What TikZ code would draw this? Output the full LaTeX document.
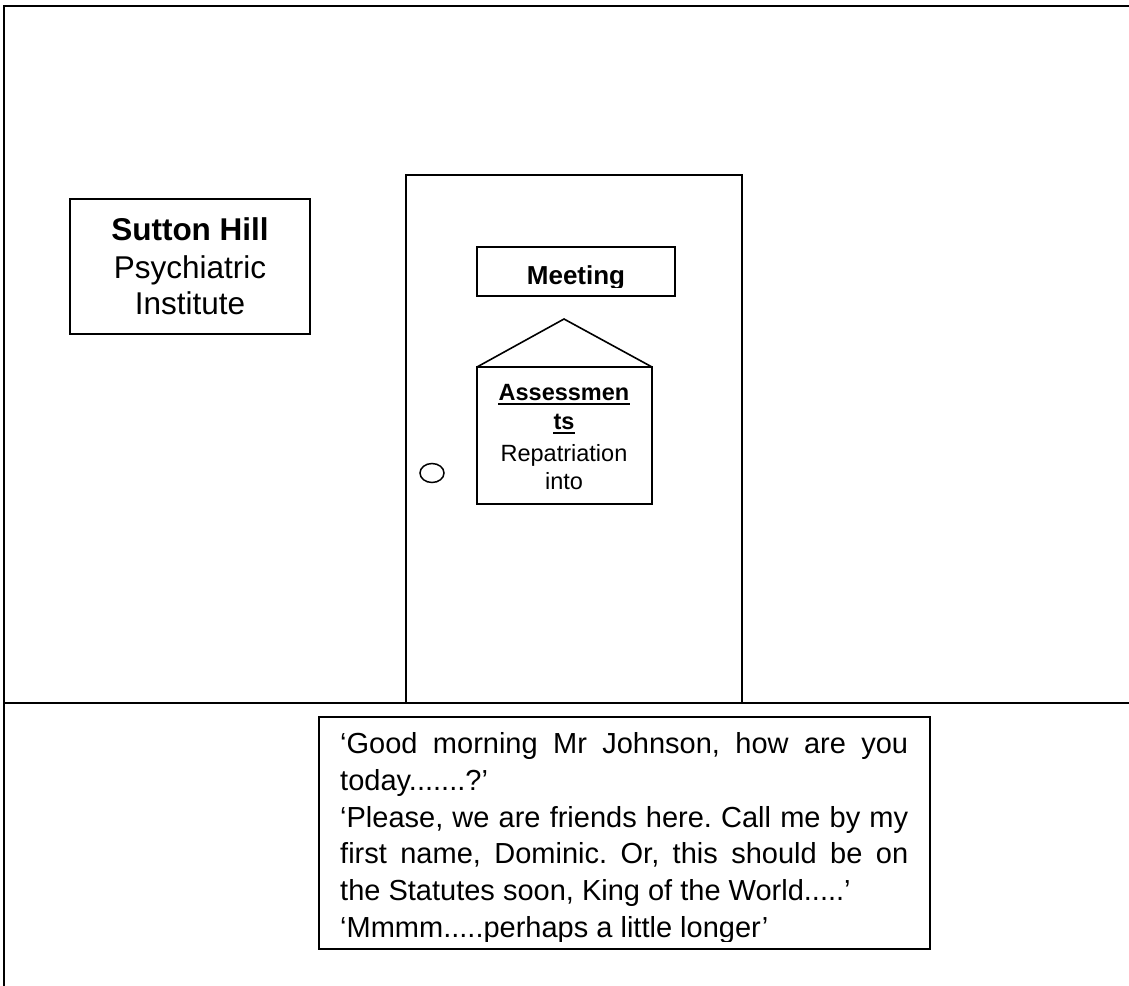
\documentclass[tikz,border=0pt]{standalone}
\usepackage{fontspec}
\setmainfont{Liberation Sans}
\frenchspacing
\begin{document}
\begin{tikzpicture}[x=1pt,y=-1pt,
  wall/.style={line width=1.6pt, line cap=rect},
  board/.style={line width=1.6pt},
  signtxt/.style={anchor=base, inner sep=0pt, font=\fontsize{31.5}{36}\selectfont},
  smalltxt/.style={anchor=base, inner sep=0pt, font=\fontsize{23.5}{28}\selectfont},
  talk/.style={anchor=base west, inner sep=0pt, font=\fontsize{29}{36}\selectfont}]
\useasboundingbox (0,0) rectangle (1129,985);

% room outline and floor line
\draw[wall] (1129,6) -- (4,6) -- (4,985);
\draw[wall] (4,703) -- (1129,703);

% door
\draw[wall] (406,703) -- (406,175) -- (742,175) -- (742,703);
\draw[line width=2.8pt] (694,175) -- (718,175);
\draw[line width=1.5pt] (432,473) ellipse [x radius=12pt, y radius=9.5pt];

% institute name board
\draw[board] (70,199) rectangle (310,334);
\node[signtxt, font=\bfseries\fontsize{31.5}{36}\selectfont] (sutton) at (190,240) {Sutton Hill};
\node[signtxt] (psych) at (190,278) {Psychiatric};
\node[signtxt] (inst) at (190,314) {Institute};

% door plate
\draw[board] (477,247) rectangle (675,296);
\begin{scope}
  \clip (477,247) rectangle (675,287);
  \node[anchor=base, inner sep=0pt, font=\bfseries\fontsize{26}{30}\selectfont] (meeting) at (576,284) {Meeting};
\end{scope}

% hanging sign
\draw[board] (477,367) -- (564,319) -- (652,367);
\draw[board] (477,367) rectangle (652,504);
\node[smalltxt, font=\bfseries\fontsize{23.5}{28}\selectfont] (assess) at (564,400) {Assessmen};
\node[smalltxt, font=\bfseries\fontsize{23.5}{28}\selectfont] (ts) at (564,429) {ts};
\draw[line width=2pt] ([yshift=-4pt]assess.base west) -- ([yshift=-4pt]assess.base east);
\draw[line width=2pt] ([yshift=-4pt]ts.base west) -- ([yshift=-4pt]ts.base east);
\node[smalltxt] (repat) at (564,461) {Repatriation};
\node[smalltxt] (into) at (564,489) {into};

% dialogue box
\draw[board] (319,717) rectangle (930,949);
\begin{scope}
  \clip (319,717) rectangle (930,941);
  \node[talk] (l1) at (340,753) {\makebox[568pt][s]{‘Good morning Mr Johnson, how are you}};
  \node[talk] (l2) at (340,790) {today.......?’};
  \node[talk] (l3) at (340,827) {\makebox[568pt][s]{‘Please, we are friends here. Call me by my}};
  \node[talk] (l4) at (340,863) {\makebox[568pt][s]{first name, Dominic. Or, this should be on}};
  \node[talk] (l5) at (340,900) {the Statutes soon, King of the World.....’};
  \node[talk] (l6) at (340,937) {‘Mmmm.....perhaps a little longer’};
\end{scope}
\end{tikzpicture}
\end{document}
